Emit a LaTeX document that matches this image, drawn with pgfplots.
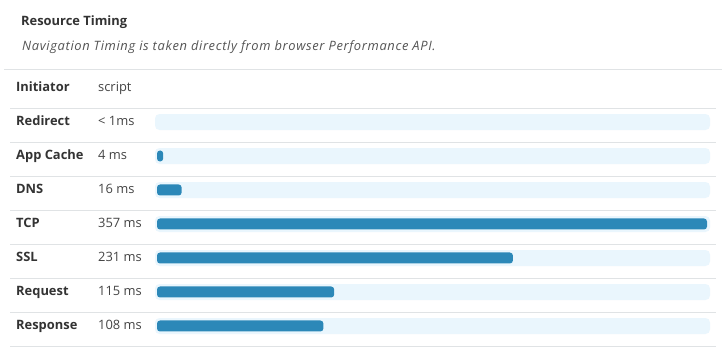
\documentclass[border=0pt]{standalone}
\usepackage{pgfplots}
\pgfplotsset{compat=1.18}
\usepackage{fontspec}
\setmainfont{Open Sans}
\definecolor{barblue}{HTML}{2C88B8}
\definecolor{track}{HTML}{EAF6FD}
\definecolor{sep}{HTML}{E0E3E5}
\definecolor{txt}{HTML}{333333}
\definecolor{val}{HTML}{444444}
\definecolor{subc}{HTML}{555555}
\begin{document}
\begin{tikzpicture}[x=1pt,y=1pt]
\useasboundingbox (0,0) rectangle (726,-357);
\fill[white] (0,0) rectangle (726,-357);
\draw[sep, line width=1.2pt] (4,-69.3) -- (722,-69.3);
\foreach \y in {108.3,142.3,176.3,210.3,244.3,278.3,312.3,346.3} \draw[sep,line width=1.2pt] (10,-\y) -- (716,-\y);
\foreach \i in {0,...,6} \fill[track, rounded corners=4.5pt] (155,{-(114+34*\i)}) rectangle (710,{-(130+34*\i)});
\begin{axis}[at={(0,0)}, anchor=north west, scale only axis, width=726pt, height=357pt, hide axis,
  xmin=-101.908, xmax=369.33, ymin=-3.588, ymax=6.912, y dir=reverse, clip=false]
\addplot[xbar, bar width=11pt, fill=barblue, draw=none, rounded corners=3pt] coordinates {(4,1) (16,2) (357,3) (231,4) (115,5) (108,6)};
\end{axis}
\node[anchor=base west, inner sep=0, text=txt, font=\fontsize{12.9}{15}\selectfont\bfseries] at (21,-25.5) {Resource Timing};
\node[anchor=base west, inner sep=0, text=subc, font=\fontsize{12.9}{15}\selectfont\itshape\addfontfeatures{LetterSpace=5}] at (22,-50) {Navigation Timing is taken directly from browser Performance API.};
\node[anchor=base west, inner sep=0, text=txt, font=\fontsize{12.9}{15}\selectfont\bfseries] at (16,-91.5) {Initiator};
\node[anchor=base west, inner sep=0, text=val, font=\fontsize{12.9}{15}\selectfont] at (98,-91.5) {script};
\foreach \lab/\v [count=\i from 0] in {Redirect/{< 1ms}, App Cache/{4 ms}, DNS/{16 ms}, TCP/{357 ms}, SSL/{231 ms}, Request/{115 ms}, Response/{108 ms}} {
  \node[anchor=base west, inner sep=0, text=txt, font=\fontsize{12.9}{15}\selectfont\bfseries] at (16,{-(125.3+34*\i)}) {\lab};
  \node[anchor=base west, inner sep=0, text=val, font=\fontsize{12.9}{15}\selectfont] at (98,{-(125.3+34*\i)}) {\v};
}
\end{tikzpicture}
\end{document}
